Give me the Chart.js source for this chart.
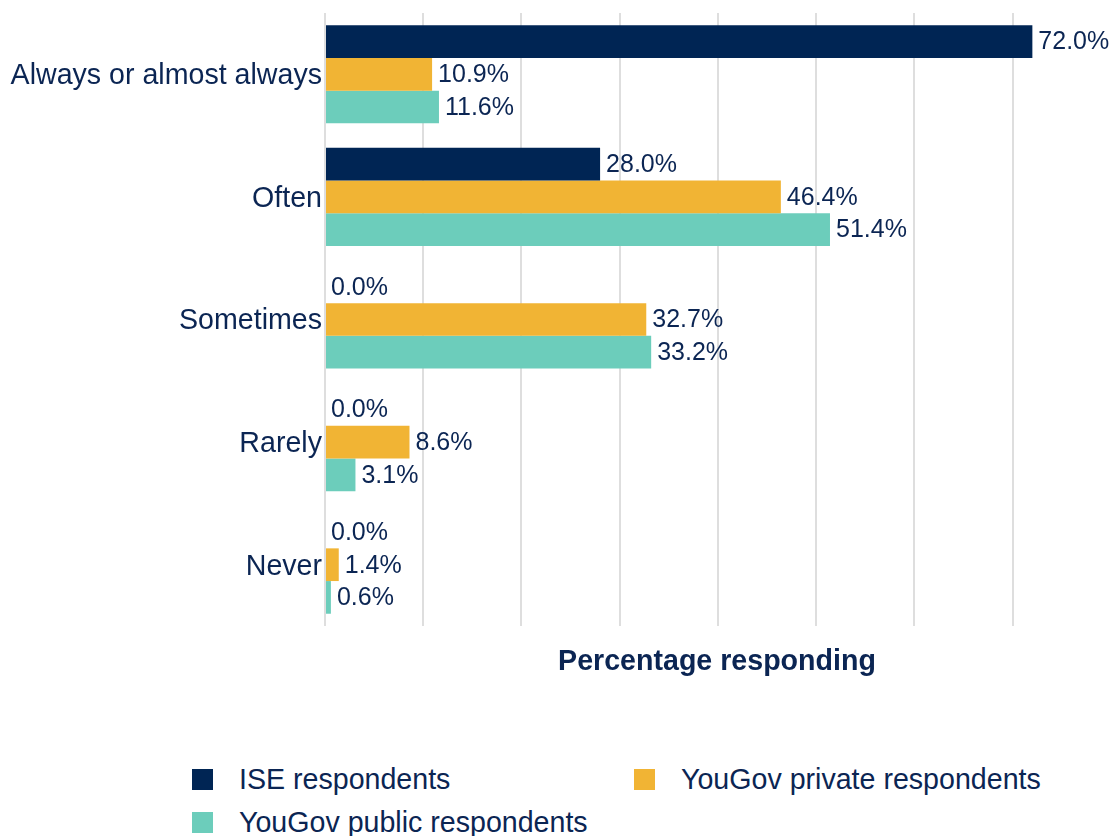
<!DOCTYPE html>
<html>
<head>
<meta charset="utf-8">
<script src="https://cdn.jsdelivr.net/npm/chart.js@4/dist/chart.umd.min.js"></script>
<style>
  html, body { margin: 0; padding: 0; background: #fff; overflow: hidden; }
  body { width: 1109px; height: 836px; position: relative; font-family: "Liberation Sans", Arial, sans-serif; }
  #wrap { position: absolute; left: 0; top: 0; width: 1109px; height: 700px; }
  #legend {
    position: absolute; left: 192px; top: 758px;
    display: grid; grid-template-columns: 442px 442px; row-gap: 0;
    color: #0b2553; font-size: 28.6px;
  }
  .item { display: flex; align-items: center; height: 43px; white-space: nowrap; }
  .box { width: 21px; height: 21px; margin-right: 26px; flex: none; }
</style>
</head>
<body>
<div id="wrap"><canvas id="chart"></canvas></div>
<div id="legend"></div>
<script>
const categories = ["Always or almost always", "Often", "Sometimes", "Rarely", "Never"];
const iseValues = [72.0, 28.0, 0.0, 0.0, 0.0];
const privateValues = [10.9, 46.4, 32.7, 8.6, 1.4];
const publicValues = [11.6, 51.4, 33.2, 3.1, 0.6];

const textColor = "#0b2553";
const fontFamily = '"Liberation Sans", Arial, sans-serif';

// value label at the end of each bar
const valueLabels = {
  id: "valueLabels",
  afterDatasetsDraw(chart) {
    const ctx = chart.ctx;
    ctx.save();
    ctx.font = "25px " + fontFamily;
    ctx.fillStyle = textColor;
    ctx.textBaseline = "middle";
    chart.data.datasets.forEach((ds, i) => {
      chart.getDatasetMeta(i).data.forEach((bar, j) => {
        ctx.fillText(ds.data[j].toFixed(1) + "%", bar.x + 6, bar.y + 1);
      });
    });
    ctx.restore();
  }
};

// two-column legend laid out in html under the canvas
const htmlLegend = {
  id: "htmlLegend",
  afterUpdate(chart) {
    const box = document.getElementById("legend");
    box.innerHTML = "";
    chart.data.datasets.forEach((ds) => {
      const item = document.createElement("div");
      item.className = "item";
      const swatch = document.createElement("span");
      swatch.className = "box";
      swatch.style.background = ds.backgroundColor;
      const label = document.createElement("span");
      label.textContent = ds.label;
      item.appendChild(swatch);
      item.appendChild(label);
      box.appendChild(item);
    });
  }
};

new Chart(document.getElementById("chart"), {
  type: "bar",
  data: {
    labels: categories,
    datasets: [
      { label: "ISE respondents", data: iseValues, backgroundColor: "#002554" },
      { label: "YouGov private respondents", data: privateValues, backgroundColor: "#f1b434" },
      { label: "YouGov public respondents", data: publicValues, backgroundColor: "#6ccdbb" }
    ]
  },
  options: {
    indexAxis: "y",
    responsive: true,
    maintainAspectRatio: false,
    animation: false,
    categoryPercentage: 0.8,
    barPercentage: 1.0,
    layout: { padding: { top: 13, right: 0, bottom: 21, left: 0 } },
    plugins: {
      legend: { display: false },
      tooltip: { enabled: false }
    },
    scales: {
      x: {
        min: 0,
        max: 79.8,
        ticks: { display: false, stepSize: 10 },
        border: { display: false },
        grid: {
          drawTicks: false,
          lineWidth: 2,
          color: (c) => (c.tick && c.tick.value % 10 === 0 ? "#dedede" : "rgba(0,0,0,0)")
        },
        title: {
          display: true,
          text: "Percentage responding",
          color: textColor,
          padding: 0,
          font: { family: fontFamily, size: 28.6, weight: "bold" }
        },
        afterFit(scale) { scale.height = 53; }
      },
      y: {
        border: { display: false },
        grid: { display: false, drawTicks: false },
        ticks: {
          color: textColor,
          padding: 3,
          labelOffset: 2,
          font: { family: fontFamily, size: 28.6 }
        },
        afterFit(scale) {
          scale.width = 325;
          // labels sit mid-band, so no extra room is needed above or below
          scale.paddingTop = 0;
          scale.paddingBottom = 0;
        }
      }
    }
  },
  plugins: [valueLabels, htmlLegend]
});
</script>
</body>
</html>
